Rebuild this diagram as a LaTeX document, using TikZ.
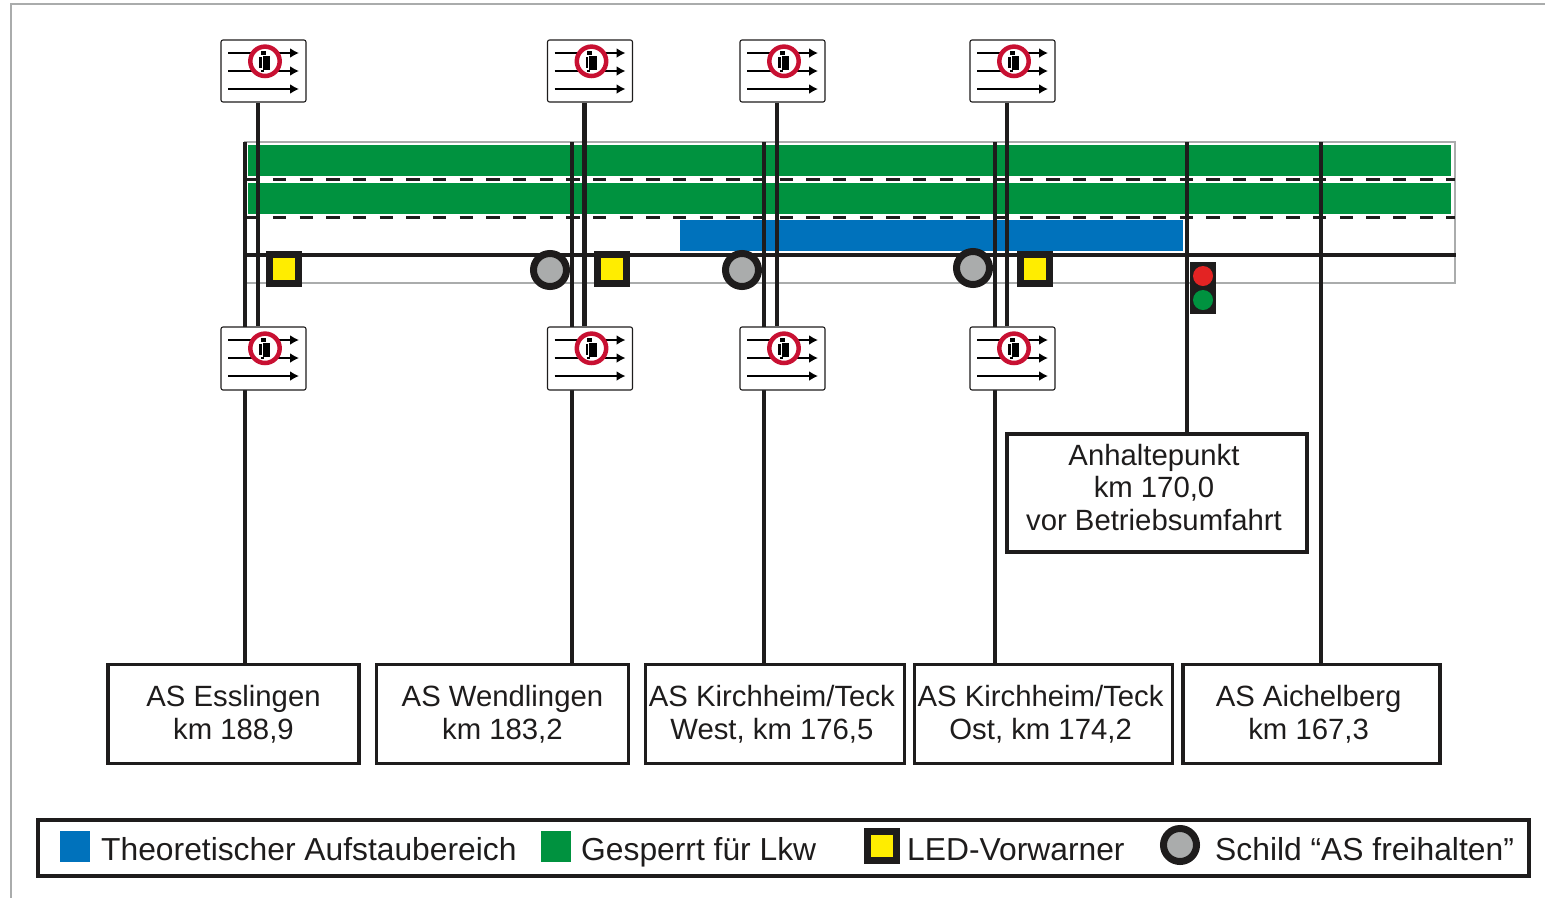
\documentclass[tikz,border=0pt]{standalone}
\usepackage{fontspec}
\setmainfont{Liberation Sans}
\usetikzlibrary{arrows.meta, positioning}
\definecolor{lane}{RGB}{0, 146, 63}
\definecolor{jam}{RGB}{0, 114, 188}
\definecolor{led}{RGB}{255, 237, 0}
\definecolor{plate}{RGB}{170, 172, 172}
\definecolor{ink}{RGB}{30, 28, 28}
\definecolor{ban}{RGB}{200, 16, 50}
\definecolor{stopred}{RGB}{227, 35, 35}
\newcommand{\nudge}{\kern6pt}

\begin{document}
\begin{tikzpicture}[
            x=1pt, y=-1pt,
            pole/.style={draw=ink, line width=4pt},
            signpole/.style={draw=ink, line width=4.6pt},
            exitbox/.style={rectangle, draw=ink, line width=3.2pt, fill=white,
                            minimum height=99pt, align=center, text=ink, text depth=3pt,
                            font=\fontsize{29.3}{32.5}\selectfont},
            signboard/.style={rectangle, rounded corners=2pt, draw=ink, line width=1.1pt, fill=white,
                              minimum width=85pt, minimum height=62pt, inner sep=0pt},
            signarrow/.style={-{Latex[length=9pt,width=10pt]}, line width=2.7pt, black},
            ledbox/.style={rectangle, draw=ink, line width=7pt, fill=led,
                           minimum width=29pt, minimum height=29pt, inner sep=0pt},
            platering/.style={circle, draw=ink, line width=7pt, fill=plate,
                              minimum size=33pt, inner sep=0pt},
            legendtext/.style={anchor=base west, inner sep=0pt, text=ink,
                               font=\fontsize{31.8}{34}\selectfont},
            swatch/.style={rectangle, minimum width=30pt, minimum height=31pt, inner sep=0pt},
            lamp/.style={circle, minimum size=20pt, inner sep=0pt},
        ]
            \useasboundingbox (0,0) rectangle (1545,898);
            \draw[plate, line width=1.5pt] (1545,4) -- (11,4) -- (11,898);

            % road
            \node[rectangle, draw=plate, line width=1.2pt, minimum width=1210pt, minimum height=141pt, inner sep=0pt] (road) at (850,212.5) {};
            \node[rectangle, fill=lane, minimum width=1203pt, minimum height=31pt, inner sep=0pt] (laneone) at (849.5,160.5) {};
            \node[rectangle, fill=lane, minimum width=1203pt, minimum height=31pt, inner sep=0pt] (lanetwo) at (849.5,198.5) {};
            \node[rectangle, fill=jam, minimum width=503pt, minimum height=31pt, inner sep=0pt] (jamzone) at (931.5,235.5) {};
            \foreach \dashy in {179.5,217.4}
                \draw[ink, line width=2.8pt, dash pattern=on 13.3pt off 13.37pt] (246.3,\dashy) -- (1455,\dashy);
            \draw[ink, line width=4.6pt] (road.west |- 0,255) -- (road.east |- 0,255);

            % exit boxes
            \node[exitbox, minimum width=251pt] (esslingen) at (233.5,714) {AS Esslingen\\km 188,9};
            \node[exitbox, minimum width=251.5pt, right=14.5pt of esslingen] (wendlingen) {AS Wendlingen\\km 183,2};
            \node[exitbox, minimum width=258pt, right=14.2pt of wendlingen] (kirchwest) {AS Kirchheim/Teck\nudge\\West, km 176,5\nudge};
            \node[exitbox, minimum width=257pt, right=7pt of kirchwest] (kirchost) {AS Kirchheim/Teck\nudge\\Ost, km 174,2\nudge};
            \node[exitbox, minimum width=257pt, right=7pt of kirchost] (aichelberg) {AS Aichelberg\nudge\\km 167,3\nudge};
            \node[exitbox, minimum width=300pt, minimum height=118pt, text depth=12pt] (stoppoint) at (1157,493) {Anhaltepunkt\nudge\\km 170,0\nudge\\vor Betriebsumfahrt\nudge};

            % long poles
            \foreach \polex/\polebox in {245/esslingen,572/wendlingen,764/kirchwest,995/kirchost,1187/stoppoint,1321/aichelberg}{
                \coordinate (top\polebox) at (\polex,142);
                \draw[pole] (top\polebox) -- (top\polebox |- \polebox.north);
            }

            % signs
            \foreach \signx/\signname in {263.5/a,590/b,782.5/c,1012.5/d}{
                \node[signboard] (upper\signname) at (\signx,71) {};
                \node[signboard, minimum height=63pt] (lower\signname) at (\signx,358.5) {};
                \draw[signpole] ([xshift=-5.5pt]upper\signname.south) -- ([xshift=-5.5pt]lower\signname.north);
                \foreach \signy in {71,358}{
                    \begin{scope}[shift={(\signx,\signy)}]
                        \foreach \arrowy in {-18,0,18}
                            \draw[signarrow] (-35.5,\arrowy) -- (35.5,\arrowy);
                        \fill[white] (1.5,-9.7) circle (15);
                        \draw[ban, line width=4.5pt] (1.5,-9.7) circle (14.7);
                        \fill[black] (-3,-20.5) rectangle (2,-16);
                        \fill[black] (-1,-15) rectangle (6.5,-1);
                        \fill[black] (-4.5,-14) rectangle (-1.8,-3);
                        \fill[black] (-3,-1) rectangle (0,1);
                    \end{scope}
                }
            }

            % markers on the road
            \node[ledbox] (ledone) at (283.5,268.5) {};
            \node[ledbox] (ledtwo) at (611.5,268.5) {};
            \node[ledbox] (ledthree) at (1034.5,268.5) {};
            \node[platering] (plateone) at (550,270) {};
            \node[platering] (platetwo) at (742,270) {};
            \node[platering] (platethree) at (973,268) {};

            % traffic light
            \node[rectangle, fill=ink, minimum width=26pt, minimum height=52pt, inner sep=0pt] (signal) at (1203,288) {};
            \node[lamp, fill=stopred] (redlamp) at (1203,276) {};
            \node[lamp, fill=lane] (greenlamp) at (1203,300) {};

            % legend
            \node[rectangle, draw=ink, line width=4.6pt, minimum width=1491pt, minimum height=56pt, inner sep=0pt] (legend) at (783.5,848) {};
            \node[swatch, fill=jam] (legendjam) at (75,846.5) {};
            \node[legendtext] (textjam) at (101,860) {Theoretischer Aufstaubereich};
            \node[swatch, fill=lane] (legendlane) at (556,846.5) {};
            \node[legendtext] (textlane) at (581,860) {Gesperrt für Lkw};
            \node[ledbox] (legendled) at (882,846) {};
            \node[legendtext] (textled) at (907,860) {LED-Vorwarner};
            \node[platering] (legendplate) at (1180,845) {};
            \node[legendtext] (textplate) at (1215,860) {Schild “AS freihalten”};
        \end{tikzpicture}
\end{document}
